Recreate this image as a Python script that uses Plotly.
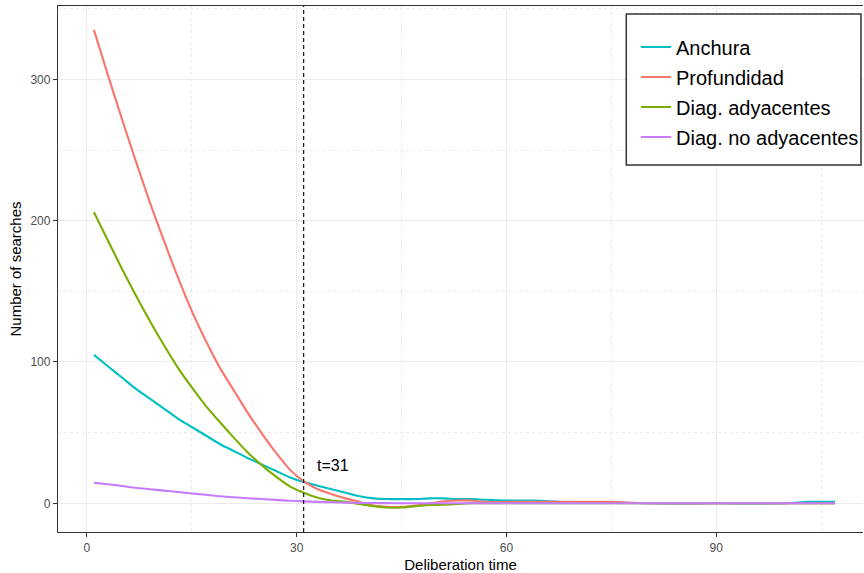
import plotly.graph_objects as go

# Deliberation time (x)
t = [1, 3, 5, 7, 9, 11, 13, 15, 17, 19, 21, 23, 25, 27, 29, 31, 33, 35, 37, 39,
     41, 43, 45, 47, 49, 51, 53, 55, 57, 60, 64, 70, 75, 80, 90, 100, 103, 107]

anchura = [105, 97, 89, 81, 74, 67, 60, 54, 48, 42, 37, 32, 27.5, 23, 18.5, 15, 12.5, 10, 7.5, 5,
           3.5, 3, 3, 3, 3.5, 3.5, 3, 3, 2.5, 2, 2, 0.5, 0.5, 0, 0, 0, 1, 1]
profundidad = [335, 303, 272, 242, 213, 186, 160, 136, 115, 96, 80, 64, 49.5, 36, 24, 15.5, 10, 6.5, 3.5, 1,
               -1.5, -2.5, -2.5, -1.5, 0, 1.5, 2, 2, 1, 1, 1, 1, 1, 0, 0, 0, 0, 0]
diag_ady = [206, 186, 166, 147, 129, 112, 96, 82, 69, 57.5, 46.5, 36, 27, 19, 12, 7.5, 4, 2, 1, -0.5,
            -2, -3, -3, -2, -1.2, -1, -0.5, 0, 0, 0, 0, 0, 0, 0, 0, 0, 0, 0]
diag_no_ady = [14.5, 13.5, 12.3, 11, 10, 9, 8, 7, 6, 5, 4.3, 3.6, 3, 2.4, 1.8, 1.4, 1, 0.7, 0.5, 0.3,
               0.2, 0.1, 0, 0, 0, 0, 0, 0, 0, 0, 0, 0, 0, 0, 0, 0, 0, 0]

series_names = ["Anchura", "Profundidad", "Diag. adyacentes", "Diag. no adyacentes"]
series_values = [anchura, profundidad, diag_ady, diag_no_ady]
colors = ["#00BFC4", "#F8766D", "#7CAE00", "#C77CFF"]

x_ticks = [0, 30, 60, 90]
y_ticks = [0, 100, 200, 300]
t_mark = 31

fig = go.Figure()
for i, (name, vals, col) in enumerate(zip(series_names, series_values, colors)):
    fig.add_trace(go.Scatter(x=t, y=vals, mode="lines", name=name,
                             line=dict(color=col, width=2.1, shape="spline", smoothing=0.7),
                             legendgroup=f"g{i}"))

FONT = "Liberation Sans, Arial, sans-serif"

fig.update_layout(
    width=864, height=573,
    margin=dict(l=58, r=0, t=6, b=41),
    paper_bgcolor="white", plot_bgcolor="white",
    font=dict(family=FONT, color="black"),
    showlegend=True,
    legend=dict(x=0.718, y=0.959, xanchor="left", yanchor="top",
                bgcolor="rgba(0,0,0,0)", borderwidth=0,
                font=dict(size=20, color="black", family=FONT),
                tracegroupgap=1),
    xaxis=dict(range=[-4.14, 111.0], tickvals=x_ticks, showgrid=True,
               gridcolor="#EBEBEB", gridwidth=1.1, zeroline=False,
               showline=True, linecolor="#333333", linewidth=1.3, mirror=True,
               ticks="outside", ticklen=4, tickcolor="#333333", tickwidth=1.1,
               tickfont=dict(size=12, color="#4D4D4D"),
               minor=dict(dtick=15, tick0=0, showgrid=True, gridcolor="#EBEBEB",
                          griddash="dot", gridwidth=1),
               title=dict(text="Deliberation time", font=dict(size=15), standoff=6)),
    yaxis=dict(range=[-20.3, 351.9], tickvals=y_ticks, showgrid=True,
               gridcolor="#EBEBEB", gridwidth=1.1, zeroline=False,
               showline=True, linecolor="#333333", linewidth=1.3, mirror=False,
               ticks="outside", ticklen=4, tickcolor="#333333", tickwidth=1.1,
               tickfont=dict(size=12, color="#4D4D4D"),
               minor=dict(dtick=50, tick0=0, showgrid=True, gridcolor="#EBEBEB",
                          griddash="dot", gridwidth=1),
               title=dict(text="Number of searches", font=dict(size=15), standoff=5)),
)

# dashed vertical line at t=31
fig.add_shape(type="line", x0=t_mark, x1=t_mark, y0=0, y1=1, xref="x", yref="paper",
              line=dict(color="black", width=1.1, dash="4px,3px"))
fig.add_annotation(x=t_mark + 1.6, y=27, text=f"t={t_mark}", showarrow=False,
                   xanchor="left", yanchor="middle",
                   font=dict(size=16, color="black", family=FONT))

# legend box
fig.add_shape(type="rect", xref="paper", yref="paper",
              x0=(627 - 58) / 806, x1=(862 - 58) / 806,
              y0=(532 - 165) / 526, y1=(532 - 14) / 526,
              line=dict(color="#333333", width=1.5), fillcolor="white", layer="above")

fig.write_html("out.html")
